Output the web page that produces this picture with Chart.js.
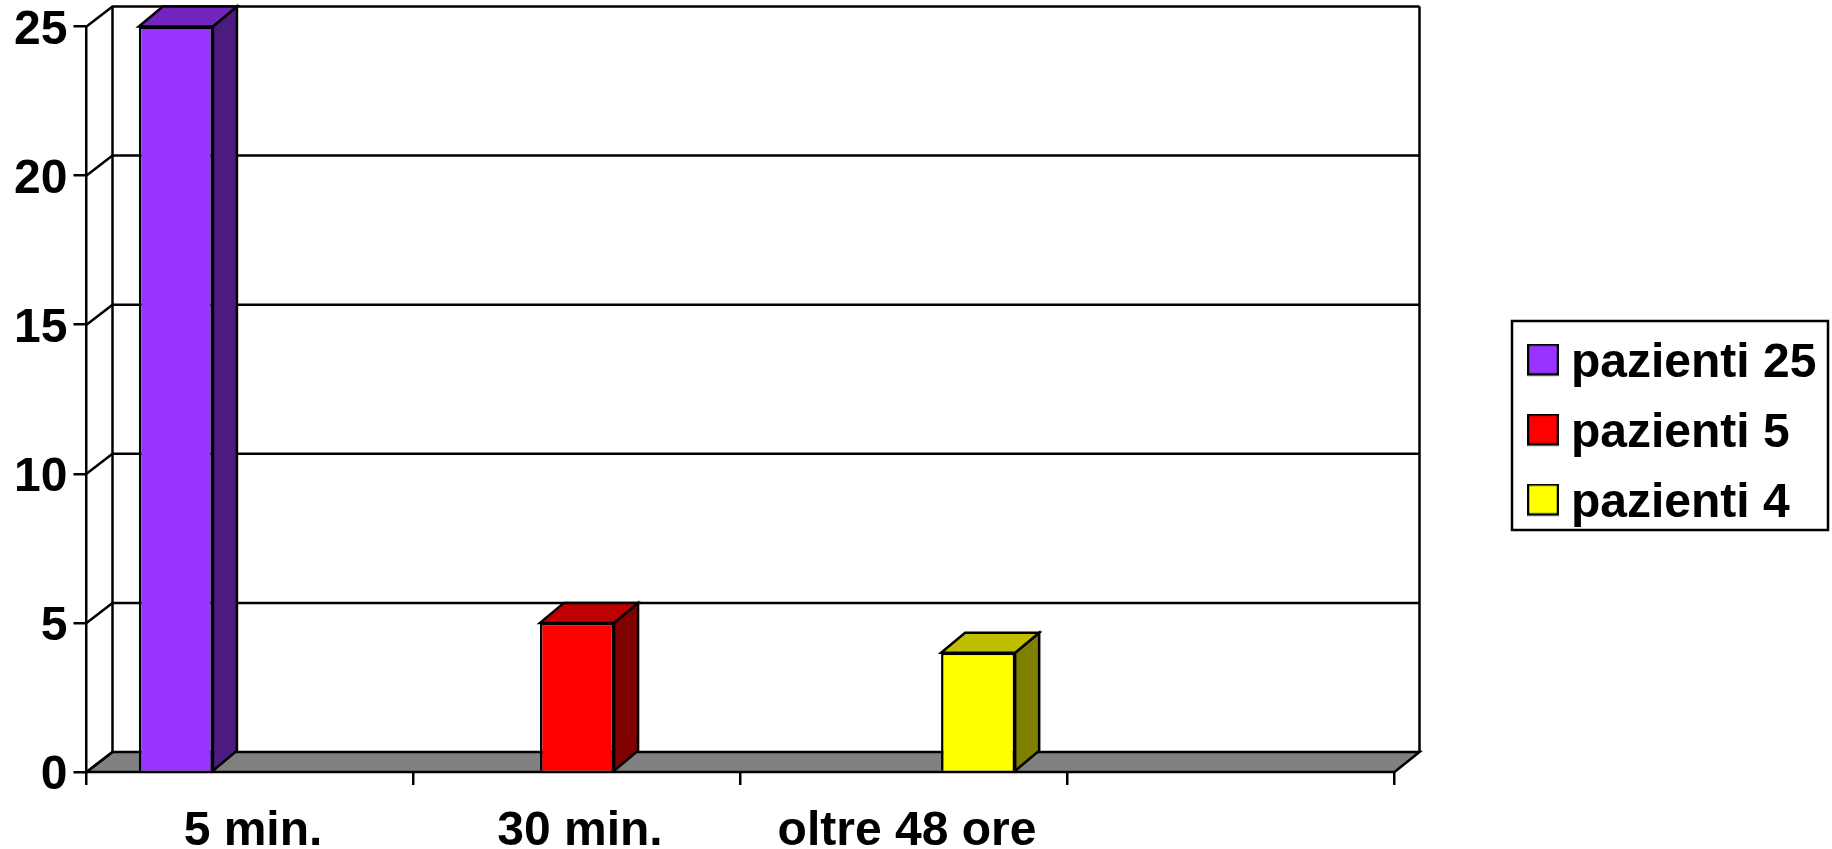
<!DOCTYPE html>
<html>
<head>
<meta charset="utf-8">
<style>
  html, body { margin: 0; padding: 0; background: #fff; overflow: hidden; }
  #wrap { width: 1832px; height: 849px; }
</style>
<script src="https://cdn.jsdelivr.net/npm/chart.js@4/dist/chart.umd.min.js"></script>
</head>
<body>
<div id="wrap"><canvas id="myChart"></canvas></div>
<script>
const categories = ['5 min.', '30 min.', 'oltre 48 ore', ''];
const seriesNames = ['pazienti 25', 'pazienti 5', 'pazienti 4'];
const pazienti25 = [25, null, null, null];
const pazienti5 = [null, 5, null, null];
const pazienti4 = [null, null, 4, null];
const yTickStep = 5;
const yMax = 25;

const frontColors = ['#9933FF', '#FF0000', '#FFFF00'];
const topColors = ['#7326BF', '#BF0000', '#BFBF00'];
const sideColors = ['#4D1A80', '#800000', '#808000'];

const labelFont = { family: '"Liberation Sans", Arial, sans-serif', size: 48, weight: 'bold' };
const depthX = 26;
const depthY = 20;
const lineW = 2.5;

function poly(ctx, pts, fill) {
    ctx.beginPath();
    pts.forEach((p, i) => i ? ctx.lineTo(p[0], p[1]) : ctx.moveTo(p[0], p[1]));
    ctx.closePath();
    if (fill) { ctx.fillStyle = fill; ctx.fill(); }
    ctx.stroke();
}

// legend swatch, passed to the legend as a point style
// the canvas is taller than the square so the square sits a little above the text centre
function swatch(color) {
    const c = document.createElement('canvas');
    c.width = 32; c.height = 40;
    const g = c.getContext('2d');
    g.fillStyle = color;
    g.strokeStyle = '#000';
    g.lineWidth = 2.5;
    g.fillRect(1, 1, 30, 30);
    g.strokeRect(1, 1, 30, 30);
    return c;
}

// walls and floor behind the bars
const walls = {
    id: 'walls',
    beforeDatasetsDraw(chart) {
        const { ctx, chartArea: a, scales: { y } } = chart;
        ctx.save();
        ctx.strokeStyle = '#000';
        ctx.lineWidth = lineW;
        poly(ctx, [[a.left, a.bottom], [a.right, a.bottom], [a.right + depthX - 1, a.bottom - depthY], [a.left + depthX, a.bottom - depthY]], '#808080');
        y.ticks.forEach(t => {
            const py = y.getPixelForValue(t.value);
            ctx.beginPath();
            ctx.moveTo(a.left, py);
            ctx.lineTo(a.left + depthX, py - depthY);
            if (t.value > 0) ctx.lineTo(a.right + depthX - 1, py - depthY);
            ctx.stroke();
        });
        ctx.beginPath();
        ctx.moveTo(a.left + depthX, a.bottom - depthY);
        ctx.lineTo(a.left + depthX, a.top - depthY);
        ctx.moveTo(a.right + depthX - 1, a.top - depthY);
        ctx.lineTo(a.right + depthX - 1, a.bottom - depthY);
        ctx.stroke();
        // side and top face of each bar
        chart.data.datasets.forEach((ds, i) => {
            chart.getDatasetMeta(i).data.forEach((bar, j) => {
                if (ds.data[j] === null) return;
                const { x, y: top, base, width } = bar.getProps(['x', 'y', 'base', 'width']);
                const l = x - width / 2, r = x + width / 2;
                poly(ctx, [[r, top], [r + depthX - 2, top - depthY], [r + depthX - 2, base - depthY], [r, base]], sideColors[i]);
                poly(ctx, [[l, top], [r, top], [r + depthX - 2, top - depthY], [l + depthX - 2, top - depthY]], topColors[i]);
            });
        });
        ctx.restore();
    }
};

// legend sits apart from the plot, with a frame around it
const legendBox = {
    id: 'legendBox',
    beforeLayout(chart) {
        const lg = chart.legend;
        if (lg._fitWrapped) return;
        const fit = lg.fit;
        lg.fit = function () {
            fit.call(this);
            this.width = chart.width - 1394.5;
        };
        lg._fitWrapped = true;
    },
    afterLayout(chart) {
        const lg = chart.legend;
        lg.left = 1517; lg.right = 1832;
        lg.top = 317.5; lg.bottom = 600;
        lg.width = lg.right - lg.left;
        lg.height = lg.bottom - lg.top;
    },
    afterDraw(chart) {
        const { ctx } = chart;
        ctx.save();
        ctx.strokeStyle = '#000';
        ctx.lineWidth = lineW;
        ctx.strokeRect(1512, 321, 316, 209);
        ctx.restore();
    }
};

const ctx = document.getElementById('myChart');

new Chart(ctx, {
    type: 'bar',
    data: {
        labels: categories,
        datasets: [pazienti25, pazienti5, pazienti4].map((values, i) => ({
            label: seriesNames[i],
            data: values,
            backgroundColor: frontColors[i],
            borderColor: '#000',
            borderWidth: lineW,
            categoryPercentage: 0.68,
            barPercentage: 1
        }))
    },
    options: {
        responsive: true,
        maintainAspectRatio: false,
        animation: false,
        layout: { autoPadding: false, padding: 0 },
        plugins: {
            tooltip: { enabled: false },
            title: { display: false },
            legend: {
                display: true,
                position: 'right',
                align: 'start',
                labels: {
                    color: '#000',
                    font: labelFont,
                    padding: 22,
                    boxWidth: 8,
                    usePointStyle: true,
                    generateLabels: chart => seriesNames.map((name, i) => ({
                        text: name,
                        pointStyle: swatch(frontColors[i]),
                        datasetIndex: i
                    }))
                }
            }
        },
        scales: {
            x: {
                afterFit: s => { s.height = 77; },
                border: { display: false },
                grid: { drawOnChartArea: false, drawTicks: true, tickLength: 13, color: '#000', lineWidth: lineW },
                ticks: { color: '#000', font: labelFont, padding: 18, labelOffset: 3, maxRotation: 0, autoSkip: false }
            },
            y: {
                min: 0,
                max: yMax,
                afterFit: s => { s.width = 86.5; s.paddingTop = 26.5; s.paddingBottom = 0; },
                border: { display: true, color: '#000', width: lineW },
                grid: { drawOnChartArea: false, drawTicks: true, tickLength: 13, color: '#000', lineWidth: lineW },
                ticks: { color: '#000', font: labelFont, padding: 6, labelOffset: 4, stepSize: yTickStep }
            }
        }
    },
    plugins: [walls, legendBox]
});
</script>
</body>
</html>
